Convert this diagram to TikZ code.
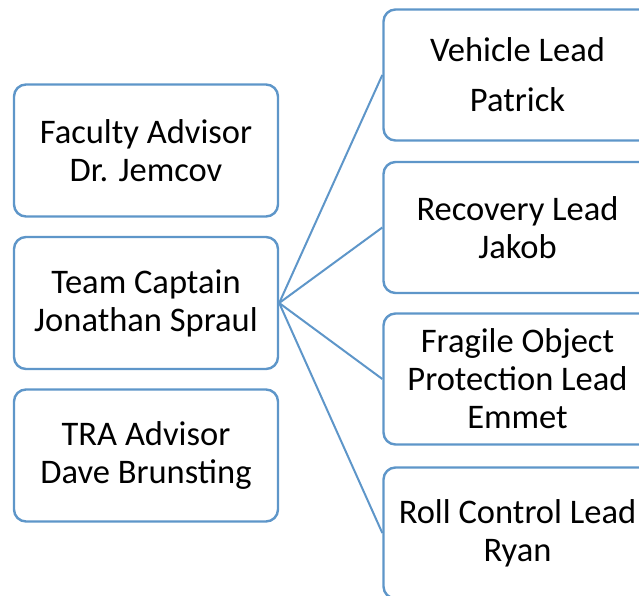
\documentclass[tikz,border=0pt]{standalone}
\usepackage{fontspec}
\setmainfont{Carlito}
\definecolor{edgeblue}{RGB}{94,150,201}
\begin{document}
\begin{tikzpicture}[x=1pt,y=-1pt,
  box/.style={draw=edgeblue, line width=2.4pt, rounded corners=12pt, fill=white,
    minimum width=264pt, minimum height=132pt, inner sep=0pt, align=center,
    font=\fontsize{34.5}{38}\selectfont,
    execute at begin node={\vspace*{5pt}}},
  lead/.style={box, minimum width=268pt, minimum height=131pt},
  link/.style={draw=edgeblue, line width=2pt}]
\useasboundingbox (0,0) rectangle (639,596);
\begin{scope}
\clip (0,0) rectangle (639,596);
% left column
\node[box] (fac) at (146,150.5) {Faculty Advisor\\Dr. Jemcov};
\node[box] (cap) at (146,303) {Team Captain\\Jonathan Spraul};
\node[box] (tra) at (146,455.5) {TRA Advisor\\Dave Brunsting};
% right column
\node[lead] (veh) at (517.5,75) {Vehicle Lead\\[12pt]Patrick};
\node[lead] (rec) at (517.5,227.5) {Recovery Lead\\Jakob};
\node[lead] (fra) at (517.5,379) {Fragile Object\\Protection Lead\\Emmet};
\node[lead] (rol) at (517.5,533) {Roll Control Lead\\Ryan};
% connectors from the captain to each lead
\coordinate (hub) at (cap.east);
\draw[link] (hub) -- (veh.west);
\draw[link] (hub) -- (rec.west);
\draw[link] (hub) -- (fra.west);
\draw[link] (hub) -- (rol.west);
\end{scope}
\end{tikzpicture}
\end{document}
